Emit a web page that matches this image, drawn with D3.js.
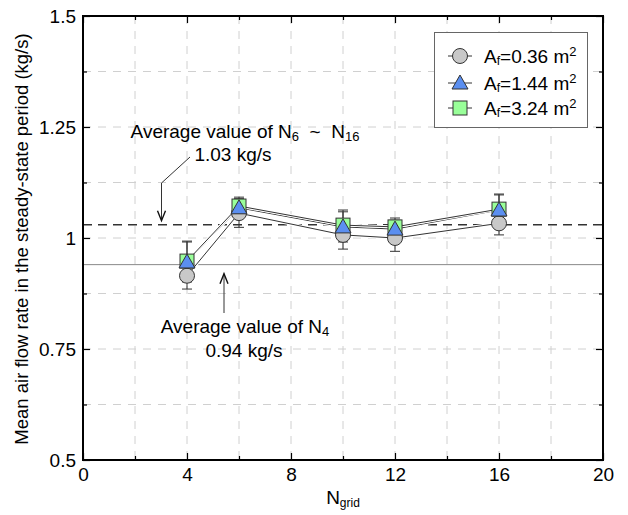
<!DOCTYPE html>
<html>
<head>
<meta charset="utf-8">
<script src="https://cdn.jsdelivr.net/npm/d3@7/dist/d3.min.js"></script>
<style>
  body { margin: 0; background: #fff; }
  svg { font-family: "Liberation Sans", Arial, sans-serif; }
</style>
</head>
<body>
<svg id="chart" width="628" height="515"></svg>
<script>
// Grid resolution study: mean steady-state air flow rate
const nGrid = [4, 6, 10, 12, 16];

const seriesNames = ["0.36", "1.44", "3.24"];
const flowA036 = [0.915, 1.056, 1.007, 1.000, 1.033];
const flowA144 = [0.946, 1.068, 1.025, 1.020, 1.063];
const flowA324 = [0.948, 1.072, 1.029, 1.025, 1.065];

const errA036 = [0.030, 0.032, 0.032, 0.030, 0.026];
const errA144 = [0.045, 0.020, 0.034, 0.020, 0.034];
const errA324 = [0.045, 0.020, 0.034, 0.020, 0.034];

const xTickLabels = [0, 4, 8, 12, 16, 20];
const yTickLabels = [0.5, 0.75, 1, 1.25, 1.5];

const avgN6to16 = 1.03;
const avgN4 = 0.94;

const FS = 19;     // main text size
const FSUB = 13;   // subscript size

const margin = { left: 83, top: 16, right: 25, bottom: 55 };
const W = 628, H = 515;
const pw = W - margin.left - margin.right;
const ph = H - margin.top - margin.bottom;

const svg = d3.select("#chart");
const g = svg.append("g").attr("transform", `translate(${margin.left},${margin.top})`);

const x = d3.scaleLinear().domain([0, 20]).range([0, pw]);
const y = d3.scaleLinear().domain([0.5, 1.5]).range([ph, 0]);

// dashed grid
const xGrid = d3.range(2, 20, 2);
const yGrid = d3.range(0.625, 1.5, 0.125);
g.selectAll(".gx").data(xGrid).enter().append("line")
  .attr("x1", d => x(d)).attr("x2", d => x(d))
  .attr("y1", 0).attr("y2", ph)
  .attr("stroke", "#d0d0d0").attr("stroke-width", 1).attr("stroke-dasharray", "8,7");
g.selectAll(".gy").data(yGrid).enter().append("line")
  .attr("x1", 0).attr("x2", pw)
  .attr("y1", d => y(d)).attr("y2", d => y(d))
  .attr("stroke", "#d0d0d0").attr("stroke-width", 1).attr("stroke-dasharray", "8,7");

// reference levels
g.append("line")
  .attr("x1", 0).attr("x2", pw)
  .attr("y1", y(avgN4)).attr("y2", y(avgN4))
  .attr("stroke", "#888").attr("stroke-width", 1);
g.append("line")
  .attr("x1", 0).attr("x2", pw)
  .attr("y1", y(avgN6to16)).attr("y2", y(avgN6to16))
  .attr("stroke", "#333").attr("stroke-width", 1.6).attr("stroke-dasharray", "9,6");

// axes with inward ticks on all four sides
const xMajor = xTickLabels, xMinor = d3.range(2, 20, 4);
const yMajor = yTickLabels, yMinor = d3.range(0.625, 1.5, 0.25);

function ticks(axisGen, tr, vals, size) {
  const a = g.append("g").attr("transform", tr)
    .call(axisGen.tickValues(vals).tickSize(size).tickFormat(""));
  a.select(".domain").remove();
  a.selectAll(".tick line").attr("stroke", "#000").attr("stroke-width", 1.2);
  return a;
}
ticks(d3.axisTop(x), `translate(0,${ph})`, xMajor, 7);
ticks(d3.axisTop(x), `translate(0,${ph})`, xMinor, 4);
ticks(d3.axisBottom(x), `translate(0,0)`, xMajor, 7);
ticks(d3.axisBottom(x), `translate(0,0)`, xMinor, 4);
ticks(d3.axisRight(y), `translate(0,0)`, yMajor, 7);
ticks(d3.axisRight(y), `translate(0,0)`, yMinor, 4);
ticks(d3.axisLeft(y), `translate(${pw},0)`, yMajor, 7);
ticks(d3.axisLeft(y), `translate(${pw},0)`, yMinor, 4);

// tick labels
const xl = g.append("g").attr("transform", `translate(0,${ph})`)
  .call(d3.axisBottom(x).tickValues(xTickLabels).tickSize(0).tickPadding(8).tickFormat(d3.format("d")));
xl.select(".domain").remove();
xl.selectAll("text").attr("font-size", FS).attr("fill", "#000")
  .style("font-family", "Liberation Sans, Arial, sans-serif");

const yl = g.append("g")
  .call(d3.axisLeft(y).tickValues(yTickLabels).tickSize(0).tickPadding(7).tickFormat(d => String(d)));
yl.select(".domain").remove();
yl.selectAll("text").attr("font-size", FS).attr("fill", "#000")
  .style("font-family", "Liberation Sans, Arial, sans-serif");

// frame
g.append("rect").attr("x", 0).attr("y", 0).attr("width", pw).attr("height", ph)
  .attr("fill", "none").attr("stroke", "#000").attr("stroke-width", 2);

// series
const series = [
  { name: seriesNames[0], vals: flowA036, err: errA036, shape: "circle", fill: "#c8c8c8" },
  { name: seriesNames[1], vals: flowA144, err: errA144, shape: "triangle", fill: "#5b8ff0" },
  { name: seriesNames[2], vals: flowA324, err: errA324, shape: "square", fill: "#99ff99" }
];

const line = d3.line().x(d => x(d[0])).y(d => y(d[1]));

function drawMarker(sel, shape, fill, cx, cy) {
  if (shape === "circle") {
    sel.append("circle").attr("cx", cx).attr("cy", cy).attr("r", 7.5)
      .attr("fill", fill).attr("stroke", "#333").attr("stroke-width", 1);
  } else if (shape === "square") {
    sel.append("rect").attr("x", cx - 7).attr("y", cy - 7).attr("width", 14).attr("height", 14)
      .attr("fill", fill).attr("stroke", "#333").attr("stroke-width", 1);
  } else {
    sel.append("path")
      .attr("d", `M${cx},${cy - 8}L${cx + 8},${cy + 6}L${cx - 8},${cy + 6}Z`)
      .attr("fill", fill).attr("stroke", "#333").attr("stroke-width", 1);
  }
}

// connecting lines (white halo so close lines read separately)
series.forEach(s => {
  const pts = nGrid.map((n, i) => [n, s.vals[i]]);
  g.append("path").attr("d", line(pts)).attr("fill", "none")
    .attr("stroke", "#fff").attr("stroke-width", 3);
  g.append("path").attr("d", line(pts)).attr("fill", "none")
    .attr("stroke", "#333").attr("stroke-width", 1);
});

// error bars
series.forEach(s => {
  nGrid.forEach((n, i) => {
    const cx = x(n), y0 = y(s.vals[i] - s.err[i]), y1 = y(s.vals[i] + s.err[i]);
    g.append("line").attr("x1", cx).attr("x2", cx).attr("y1", y0).attr("y2", y1)
      .attr("stroke", "#333").attr("stroke-width", 1);
    [y0, y1].forEach(yy => g.append("line")
      .attr("x1", cx - 5).attr("x2", cx + 5).attr("y1", yy).attr("y2", yy)
      .attr("stroke", "#333").attr("stroke-width", 1));
  });
});

// markers: circles underneath, then squares, then triangles on top
const order = [series[0], series[2], series[1]];
order.forEach(s => {
  nGrid.forEach((n, i) => drawMarker(g, s.shape, s.fill, x(n), y(s.vals[i])));
});

// annotations
const ann = svg.append("g").attr("font-size", FS).attr("fill", "#000");
const t1 = ann.append("text").attr("x", 245).attr("y", 138).attr("text-anchor", "middle");
t1.append("tspan").text("Average value of N");
t1.append("tspan").attr("font-size", FSUB).attr("dy", 3).text("6");
t1.append("tspan").attr("dy", -3).text("\u00A0\u00A0~\u00A0\u00A0N");
t1.append("tspan").attr("font-size", FSUB).attr("dy", 3).text("16");
ann.append("text").attr("x", 233).attr("y", 161).attr("text-anchor", "middle").text(avgN6to16.toFixed(2) + " kg/s");

const t2 = ann.append("text").attr("x", 245).attr("y", 333).attr("text-anchor", "middle");
t2.append("tspan").text("Average value of N");
t2.append("tspan").attr("font-size", FSUB).attr("dy", 3).text("4");
ann.append("text").attr("x", 244).attr("y", 357).attr("text-anchor", "middle").text(avgN4.toFixed(2) + " kg/s");

// leader arrows
const arrowX1 = 161.5;
const yAvgHi = margin.top + y(avgN6to16);
ann.append("path")
  .attr("d", `M190,157L${arrowX1},183L${arrowX1},${yAvgHi - 4}`)
  .attr("fill", "none").attr("stroke", "#333").attr("stroke-width", 1);
ann.append("path")
  .attr("d", `M${arrowX1 - 4},${yAvgHi - 14}L${arrowX1},${yAvgHi - 4}L${arrowX1 + 4},${yAvgHi - 14}`)
  .attr("fill", "none").attr("stroke", "#111").attr("stroke-width", 1.4);

const arrowX2 = 224;
const yAvgLo = margin.top + y(avgN4);
ann.append("path")
  .attr("d", `M${arrowX2},313L${arrowX2},${yAvgLo + 9}`)
  .attr("fill", "none").attr("stroke", "#333").attr("stroke-width", 1);
ann.append("path")
  .attr("d", `M${arrowX2 - 4},${yAvgLo + 19}L${arrowX2},${yAvgLo + 9}L${arrowX2 + 4},${yAvgLo + 19}`)
  .attr("fill", "none").attr("stroke", "#111").attr("stroke-width", 1.4);

// axis titles
const xt = svg.append("text").attr("x", margin.left + x(10)).attr("y", 504)
  .attr("text-anchor", "middle").attr("font-size", FS);
xt.append("tspan").text("N");
xt.append("tspan").attr("font-size", 12).attr("dy", 3).text("grid");

svg.append("text")
  .attr("transform", `translate(28,${margin.top + ph / 2 + 1}) rotate(-90)`)
  .attr("text-anchor", "middle").attr("font-size", 18.5)
  .text("Mean air flow rate in the steady-state period (kg/s)");

// legend
const lg = svg.append("g");
lg.append("rect").attr("x", 434.5).attr("y", 32.5).attr("width", 153).attr("height", 95)
  .attr("fill", "#fff").attr("stroke", "#666").attr("stroke-width", 1);
const legendY = [56, 83, 108];
series.forEach((s, i) => {
  const ly = legendY[i];
  lg.append("line").attr("x1", 448).attr("x2", 472).attr("y1", ly).attr("y2", ly)
    .attr("stroke", "#333").attr("stroke-width", 1);
  drawMarker(lg, s.shape, s.fill, 460, ly);
  const t = lg.append("text").attr("x", 484).attr("y", ly + 7).attr("font-size", FS);
  t.append("tspan").text("A");
  t.append("tspan").attr("font-size", 12).attr("dy", 2).text("f");
  t.append("tspan").attr("dy", -2).text("=" + s.name + " m");
  t.append("tspan").attr("font-size", 13).attr("dy", -7).text("2");
});
</script>
</body>
</html>
